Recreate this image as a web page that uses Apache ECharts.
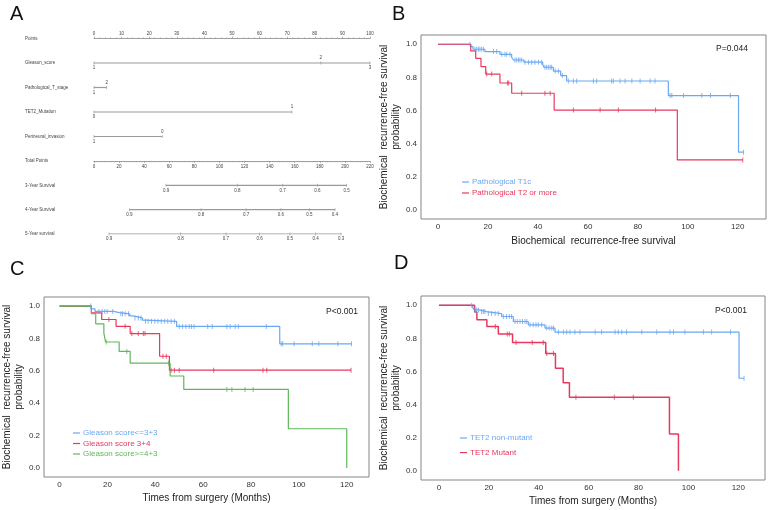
<!DOCTYPE html>
<html><head><meta charset="utf-8">
<script src="https://cdn.jsdelivr.net/npm/echarts@6/dist/echarts.min.js"></script>
<style>html,body{margin:0;padding:0;background:#fff}#c{width:771px;height:510px}</style>
</head><body><div id="c"></div>
<script>
// ---------- Panel A: nomogram ----------
const pointRowNames = ['Points', 'Gleason_score', 'Pathological_T_stage', 'TET2_Mutation', 'Perineural_invasion'];
const totalRowNames = ['Total Points', '3-Year Survival', '4-Year Survival', '5-Year survival'];
const gleasonLevels = ['1', '2', '3'];
const gleasonPts = [0, 82.2, 100];
const ptStageLevels = ['1', '2'];
const ptStagePts = [0, 4.6];
const tet2Levels = ['0', '1'];
const tet2Pts = [0, 71.7];
const pniLevels = ['1', '0'];
const pniPts = [0, 24.7];
const surv3Prob = [0.9, 0.8, 0.7, 0.6, 0.5];
const surv3Pts = [57.4, 114.3, 150.4, 178.0, 201.4];
const surv4Prob = [0.9, 0.8, 0.7, 0.6, 0.5, 0.4];
const surv4Pts = [28.2, 85.3, 121.2, 149.0, 171.6, 192.1];
const surv5Prob = [0.9, 0.8, 0.7, 0.6, 0.5, 0.4, 0.3];
const surv5Pts = [12.0, 69.1, 105.2, 132.1, 156.2, 176.7, 196.9];

// ---------- Panel B: pathological T stage ----------
const bT1cTimes = [13.1, 14.0, 18.8, 24.8, 29.5, 30.2, 34.4, 41.9, 42.4, 46.2, 49.1, 51.5, 92.2, 120.3];
const bT1cSurv = [0.986, 0.970, 0.956, 0.939, 0.920, 0.905, 0.892, 0.879, 0.861, 0.838, 0.811, 0.778, 0.690, 0.348];
const bT1cCensor = [12.8, 14.8, 15.5, 16.2, 16.8, 17.5, 18.2, 22.2, 23.5, 25.5, 26.8, 27.5, 28.8, 30.8, 31.5, 32.2, 32.8, 33.5, 34.8, 36.2, 37.5, 38.8, 40.2, 41.5, 42.8, 43.5, 44.2, 44.9, 45.5, 46.9, 48.2, 49.8, 52.2, 54.2, 55.5, 62.2, 63.5, 69.5, 70.2, 72.9, 74.9, 77.6, 80.9, 84.9, 86.9, 92.9, 93.6, 98.3, 105.6, 109.1, 117.0, 122.3];
const bT2Times = [13.1, 15.1, 17.2, 19.1, 24.8, 29.5, 46.5, 95.8];
const bT2Surv = [0.960, 0.915, 0.865, 0.820, 0.766, 0.704, 0.602, 0.301];
const bT2Censor = [19.5, 21.5, 27.8, 28.3, 33.5, 42.8, 44.9, 54.2, 64.9, 72.2, 87.1, 122.0];

// ---------- Panel C: Gleason score ----------
const cG6Times = [13.3, 14.8, 22.6, 25.0, 29.3, 30.7, 34.6, 35.5, 48.9, 92.0];
const cG6Surv = [0.983, 0.967, 0.960, 0.952, 0.939, 0.927, 0.913, 0.906, 0.874, 0.767];
const cG6Censor = [13.0, 16.4, 17.8, 18.9, 19.9, 22.2, 25.6, 26.3, 27.4, 28.8, 31.5, 32.9, 34.0, 35.9, 37.0, 38.4, 39.8, 41.1, 42.5, 43.9, 45.2, 46.6, 48.0, 50.0, 51.4, 52.8, 54.2, 55.1, 56.2, 61.9, 63.8, 69.9, 71.3, 73.4, 74.7, 86.4, 92.6, 93.2, 98.0, 105.6, 108.3, 116.3, 122.0];
const cG34Times = [13.3, 17.6, 23.6, 29.5, 41.8, 45.9];
const cG34Surv = [0.958, 0.917, 0.875, 0.830, 0.690, 0.604];
const cG34Censor = [20.6, 27.4, 30.2, 32.9, 35.0, 35.7, 43.2, 44.6, 46.6, 48.0, 50.0, 64.4, 85.0, 86.6, 121.8];
const cG43Times = [13.3, 15.1, 18.5, 19.2, 24.9, 29.5, 46.2, 51.9, 95.6, 120.0];
const cG43Surv = [0.953, 0.890, 0.834, 0.778, 0.720, 0.647, 0.568, 0.485, 0.242, 0.0];
const cG43Censor = [19.5, 28.1, 45.5, 69.9, 72.0, 77.5, 80.9];

// ---------- Panel D: TET2 ----------
const dWtTimes = [13.5, 14.2, 16.4, 18.9, 25.1, 29.8, 35.8, 42.5, 46.5, 120.3];
const dWtSurv = [0.986, 0.972, 0.962, 0.950, 0.932, 0.902, 0.882, 0.862, 0.838, 0.559];
const dWtCensor = [13.1, 14.4, 15.1, 15.8, 17.1, 17.8, 18.4, 19.8, 21.1, 22.5, 23.8, 25.8, 27.1, 28.2, 29.1, 30.5, 31.4, 32.5, 33.5, 34.5, 35.2, 36.5, 37.8, 38.9, 39.8, 41.2, 43.2, 44.2, 45.2, 45.9, 47.9, 49.9, 51.2, 52.5, 54.5, 56.5, 62.6, 65.2, 70.6, 71.9, 73.3, 75.2, 81.3, 87.3, 92.6, 94.0, 98.6, 106.0, 109.3, 116.9, 122.3];
const dMutTimes = [14.3, 15.2, 19.2, 23.8, 29.5, 42.8, 46.7, 49.8, 52.3, 92.4, 96.0];
const dMutSurv = [0.960, 0.912, 0.872, 0.826, 0.775, 0.708, 0.620, 0.531, 0.444, 0.222, 0.0];
const dMutCensor = [22.6, 27.4, 28.2, 30.9, 37.4, 41.8, 43.2, 45.9, 54.9, 70.3, 77.9];

const monthTicks = [0, 20, 40, 60, 80, 100, 120];
const probTicks = [0, 0.2, 0.4, 0.6, 0.8, 1.0];

// ---------- styling ----------
const FONT = "'Liberation Sans', Arial, sans-serif";
const BLUE = '#6aa8f2', RED = '#e8385e', GREEN = '#5fb85a';
const NOMO_LINE = '#9a9a9a', NOMO_TEXT = '#444';

function survAt(times, survs, t) {
  let s = 1;
  for (let i = 0; i < times.length; i++) if (times[i] <= t) s = survs[i];
  return s;
}
function km(name, times, survs, censors, color, idx, width) {
  const last = times[times.length - 1];
  const end = Math.max(last, censors.length ? censors[censors.length - 1] : 0);
  const pts = [[0, 1]];
  times.forEach((t, i) => pts.push([t, survs[i]]));
  if (end > last) pts.push([end, survs[survs.length - 1]]);
  return [
    { type: 'line', name, xAxisIndex: idx, yAxisIndex: idx, data: pts, step: 'end', showSymbol: false,
      lineStyle: { color, width: width || 1.2 }, itemStyle: { color }, silent: true, z: 3 },
    { type: 'scatter', name: name + ' (censored)', xAxisIndex: idx, yAxisIndex: idx,
      data: censors.map(t => [t, survAt(times, survs, t)]), symbol: 'rect', symbolSize: [1, 5],
      itemStyle: { color }, silent: true, z: 4 }
  ];
}
function nomoVar(levels, pts, row) {
  return {
    type: 'line', xAxisIndex: 0, yAxisIndex: 0, silent: true,
    data: pts.map((p, i) => ({ value: [p, row], label: { position: i % 2 ? 'top' : 'bottom' } })),
    symbol: 'rect', symbolSize: [0.7, 3], itemStyle: { color: NOMO_LINE },
    lineStyle: { color: NOMO_LINE, width: 1.2 },
    label: { show: true, distance: 1, fontSize: 4.5, color: NOMO_TEXT, fontFamily: FONT,
      formatter: p => levels[p.dataIndex] }
  };
}
function nomoSurv(probs, pts, row) {
  return {
    type: 'line', xAxisIndex: 1, yAxisIndex: 1, silent: true,
    data: pts.map(p => [p, row]),
    symbol: 'rect', symbolSize: [0.7, 3], itemStyle: { color: NOMO_LINE },
    lineStyle: { color: NOMO_LINE, width: 1.2 },
    label: { show: true, position: 'bottom', distance: 1, fontSize: 4.5, color: NOMO_TEXT, fontFamily: FONT,
      formatter: p => probs[p.dataIndex].toFixed(1) }
  };
}
function kmX(idx, min, max, gap, name) {
  return {
    gridIndex: idx, type: 'value', min, max, name, nameLocation: 'middle', nameGap: gap,
    nameTextStyle: { fontSize: 10, color: '#222', fontFamily: FONT },
    axisLine: { show: false }, axisTick: { show: false }, splitLine: { show: false },
    axisLabel: { customValues: monthTicks, fontSize: 8, color: '#333', margin: 4, fontFamily: FONT }
  };
}
function kmY(idx, gap) {
  return {
    gridIndex: idx, type: 'value', min: -0.056, max: 1.056,
    name: 'Biochemical  recurrence-free survival\nprobability', nameLocation: 'middle', nameRotate: 90, nameGap: gap,
    nameTextStyle: { fontSize: 10, color: '#222', fontFamily: FONT, lineHeight: 12 },
    axisLine: { show: false }, axisTick: { show: false }, splitLine: { show: false },
    axisLabel: { customValues: probTicks, fontSize: 8, color: '#333', margin: 4, fontFamily: FONT,
      formatter: v => v.toFixed(1) }
  };
}
function legendFor(names, colors, left, top, gap) {
  return {
    data: names.map((n, i) => ({ name: n, textStyle: { color: colors[i] } })),
    left, top, orient: 'vertical', icon: 'rect', itemWidth: 7, itemHeight: 1.2, itemGap: gap,
    padding: 0, selectedMode: false,
    textStyle: { fontSize: 8, fontFamily: FONT, lineHeight: 10, padding: [0, 0, 0, -2] }
  };
}
const frame = { show: true, borderColor: '#858585', borderWidth: 1, backgroundColor: 'transparent' };

const option = {
  backgroundColor: '#fff',
  animation: false,
  grid: [
    { left: 94, width: 276, top: 38.5, height: 98 },
    { left: 94, width: 276, top: 161, height: 73 },
    Object.assign({ left: 421, top: 35, width: 345, height: 184 }, frame),
    Object.assign({ left: 39, top: 297, width: 330, height: 180 }, frame),
    Object.assign({ left: 421, top: 296, width: 344, height: 184 }, frame)
  ],
  xAxis: [
    { gridIndex: 0, type: 'value', min: 0, max: 100, interval: 10, position: 'top',
      axisLine: { lineStyle: { color: '#888', width: 0.8 } },
      axisTick: { length: 2, lineStyle: { color: '#888', width: 0.6 } },
      minorTick: { show: true, splitNumber: 5, length: 1.3, lineStyle: { color: '#999', width: 0.5 } },
      axisLabel: { fontSize: 4.5, color: NOMO_TEXT, margin: 2, fontFamily: FONT },
      splitLine: { show: false } },
    { gridIndex: 1, type: 'value', min: 0, max: 220, interval: 20, position: 'top',
      axisLine: { lineStyle: { color: '#888', width: 0.8 } },
      axisTick: { inside: true, length: 2, lineStyle: { color: '#888', width: 0.6 } },
      minorTick: { show: true, splitNumber: 10, length: 1.3, lineStyle: { color: '#999', width: 0.5 } },
      axisLabel: { inside: true, fontSize: 4.5, color: NOMO_TEXT, margin: 3, fontFamily: FONT },
      splitLine: { show: false } },
    kmX(2, -6.8, 131.3, 17, 'Biochemical  recurrence-free survival'),
    kmX(3, -6.5, 129.3, 16, 'Times from surgery (Months)'),
    kmX(4, -7.2, 130.7, 16, 'Times from surgery (Months)')
  ],
  yAxis: [
    { gridIndex: 0, type: 'value', min: 0, max: 4, interval: 1, inverse: true,
      axisLine: { show: false }, axisTick: { show: false }, splitLine: { show: false },
      axisLabel: { formatter: v => pointRowNames[v] || '', align: 'left', margin: 69, fontSize: 4.5, color: NOMO_TEXT, fontFamily: FONT } },
    { gridIndex: 1, type: 'value', min: 0, max: 3, interval: 1, inverse: true,
      axisLine: { show: false }, axisTick: { show: false }, splitLine: { show: false },
      axisLabel: { formatter: v => totalRowNames[v] || '', align: 'left', margin: 69, fontSize: 4.5, color: NOMO_TEXT, fontFamily: FONT } },
    kmY(2, 18),
    kmY(3, 15),
    kmY(4, 16)
  ],
  legend: [
    legendFor(['Pathological T1c', 'Pathological T2 or more'], [BLUE, RED], 462, 177, 1),
    legendFor(['Gleason score<=3+3', 'Gleason score 3+4', 'Gleason score>=4+3'], [BLUE, RED, GREEN], 73, 428, 0.5),
    legendFor(['TET2 non-mutant', 'TET2 Mutant'], [BLUE, RED], 460, 433, 4.6)
  ],
  graphic: [
    { type: 'text', left: 10, top: 4, style: { text: 'A', fontSize: 20, fill: '#111', fontFamily: FONT } },
    { type: 'text', left: 392, top: 4, style: { text: 'B', fontSize: 20, fill: '#111', fontFamily: FONT } },
    { type: 'text', left: 10, top: 259, style: { text: 'C', fontSize: 20, fill: '#111', fontFamily: FONT } },
    { type: 'text', left: 394, top: 253, style: { text: 'D', fontSize: 20, fill: '#111', fontFamily: FONT } },
    { type: 'text', left: 716, top: 44, style: { text: 'P=0.044', fontSize: 8.5, fill: '#222', fontFamily: FONT } },
    { type: 'text', left: 326, top: 307, style: { text: 'P<0.001', fontSize: 8.5, fill: '#222', fontFamily: FONT } },
    { type: 'text', left: 715, top: 306, style: { text: 'P<0.001', fontSize: 8.5, fill: '#222', fontFamily: FONT } }
  ],
  series: [
    nomoVar(gleasonLevels, gleasonPts, 1),
    nomoVar(ptStageLevels, ptStagePts, 2),
    nomoVar(tet2Levels, tet2Pts, 3),
    nomoVar(pniLevels, pniPts, 4),
    nomoSurv(surv3Prob, surv3Pts, 1),
    nomoSurv(surv4Prob, surv4Pts, 2),
    nomoSurv(surv5Prob, surv5Pts, 3),
    ...km('Pathological T1c', bT1cTimes, bT1cSurv, bT1cCensor, BLUE, 2),
    ...km('Pathological T2 or more', bT2Times, bT2Surv, bT2Censor, RED, 2),
    ...km('Gleason score<=3+3', cG6Times, cG6Surv, cG6Censor, BLUE, 3),
    ...km('Gleason score 3+4', cG34Times, cG34Surv, cG34Censor, RED, 3),
    ...km('Gleason score>=4+3', cG43Times, cG43Surv, cG43Censor, GREEN, 3),
    ...km('TET2 non-mutant', dWtTimes, dWtSurv, dWtCensor, BLUE, 4),
    ...km('TET2 Mutant', dMutTimes, dMutSurv, dMutCensor, RED, 4, 1.5)
  ]
};
const chart = echarts.init(document.getElementById('c'), null, { renderer: 'canvas' });
chart.setOption(option);
</script></body></html>
